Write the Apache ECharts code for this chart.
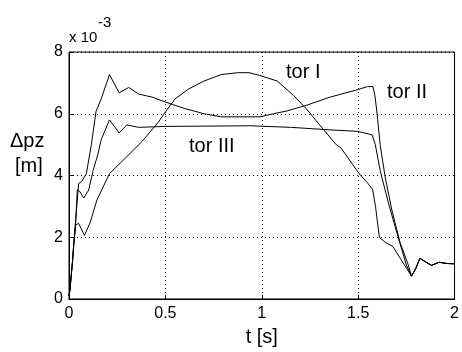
<!DOCTYPE html>
<html>
<head>
<meta charset="utf-8">
<script src="https://cdn.jsdelivr.net/npm/echarts@6/dist/echarts.min.js"></script>
<style>
html,body{margin:0;padding:0;background:#fff;}
#c{width:462px;height:352px;}
</style>
</head>
<body>
<div id="c"></div>
<script>
// values in units of 1e-3 m
var xTicks = [0, 0.5, 1, 1.5, 2];
var yTicks = [0, 2, 4, 6, 8];

var torI_t = [0, 0.005, 0.012, 0.018, 0.025, 0.035, 0.05, 0.08, 0.11, 0.145, 0.21, 0.295, 0.38, 0.465, 0.5, 0.55, 0.62, 0.70, 0.79, 0.875, 0.934, 0.99, 1.08, 1.165, 1.23, 1.30, 1.386, 1.41, 1.47, 1.505, 1.55, 1.575, 1.59, 1.61, 1.64, 1.68, 1.73];
var torI_y = [0.1, 0.3, 0.8, 1.2, 1.8, 2.4, 2.45, 2.06, 2.48, 3.21, 4.06, 4.58, 5.11, 5.74, 6.06, 6.48, 6.8, 7.06, 7.27, 7.33, 7.33, 7.24, 7.06, 6.59, 6.17, 5.64, 5.0, 4.9, 4.37, 4.06, 3.75, 3.55, 3.0, 2.0, 1.84, 1.7, 1.2];

var torII_t = [0, 0.005, 0.012, 0.018, 0.025, 0.035, 0.05, 0.065, 0.09, 0.116, 0.14, 0.167, 0.21, 0.26, 0.31, 0.36, 0.43, 0.5, 0.6, 0.7, 0.79, 0.99, 1.06, 1.13, 1.23, 1.35, 1.497, 1.548, 1.577, 1.587, 1.597, 1.614, 1.64, 1.674, 1.717, 1.76];
var torII_y = [0.1, 0.3, 0.8, 1.2, 1.8, 2.6, 3.74, 3.8, 4.06, 5.0, 6.07, 6.48, 7.27, 6.68, 6.85, 6.64, 6.54, 6.38, 6.17, 6.0, 5.9, 5.9, 6.0, 6.09, 6.27, 6.53, 6.78, 6.88, 6.88, 6.59, 6.06, 5.0, 3.95, 2.9, 1.84, 1.1];

var torIII_t = [0, 0.005, 0.012, 0.018, 0.025, 0.035, 0.043, 0.056, 0.077, 0.102, 0.125, 0.15, 0.167, 0.21, 0.26, 0.30, 0.36, 0.5, 0.94, 0.95, 1.15, 1.16, 1.35, 1.497, 1.557, 1.572, 1.589, 1.614, 1.657, 1.70, 1.75];
var torIII_y = [0.1, 0.3, 0.8, 1.2, 1.8, 2.5, 3.53, 3.48, 3.27, 3.53, 4.16, 4.69, 5.16, 5.8, 5.38, 5.64, 5.56, 5.59, 5.61, 5.56, 5.56, 5.5, 5.48, 5.43, 5.34, 5.32, 5.0, 4.16, 3.11, 2.16, 1.1];

// shared tail where the three curves coincide
var tail_t = [1.777, 1.80, 1.82, 1.85, 1.88, 1.92, 1.96, 2.0];
var tail_y = [0.74, 1.0, 1.32, 1.2, 1.09, 1.19, 1.15, 1.14];

var seriesNames = ['tor I', 'tor II', 'tor III'];

function pairs(t, y) {
  var out = [];
  for (var i = 0; i < t.length; i++) out.push([t[i], y[i]]);
  for (var j = 0; j < tail_t.length; j++) out.push([tail_t[j], tail_y[j]]);
  return out;
}

var chart = echarts.init(document.getElementById('c'), null, {renderer: 'canvas'});
var FONT = 'Liberation Sans, Arial, sans-serif';
var lineSty = {color: '#000', width: 1};
function mkSeries(name, t, y) {
  return {
    name: name, type: 'line', data: pairs(t, y), showSymbol: false, symbol: 'none',
    lineStyle: lineSty, itemStyle: {color: '#000'}, animation: false, silent: true
  };
}

chart.setOption({
  backgroundColor: '#fff',
  animation: false,
  grid: {left: 69, right: 2, top: 52, bottom: 47, show: true, borderColor: '#000', borderWidth: 1, backgroundColor: 'transparent'},
  xAxis: {
    type: 'value', min: xTicks[0], max: xTicks[xTicks.length - 1], interval: 0.5,
    axisLine: {show: true, lineStyle: {color: '#000', width: 1}},
    axisTick: {show: true, inside: true, length: 4, lineStyle: {color: '#000'}},
    axisLabel: {color: '#000', fontSize: 16, fontFamily: FONT, margin: 7,
      formatter: function (v) { return String(v); }},
    splitLine: {show: true, lineStyle: {color: '#000', width: 1, type: [1, 3]}},
    name: 't [s]', nameLocation: 'middle', nameGap: 28,
    nameTextStyle: {color: '#000', fontSize: 20, fontFamily: FONT, padding: [0, 0, 0, 0]}
  },
  yAxis: {
    type: 'value', min: yTicks[0], max: yTicks[yTicks.length - 1], interval: 2,
    axisLine: {show: true, lineStyle: {color: '#000', width: 1}},
    axisTick: {show: true, inside: true, length: 4, lineStyle: {color: '#000'}},
    axisLabel: {color: '#000', fontSize: 16, fontFamily: FONT, margin: 6},
    splitLine: {show: true, lineStyle: {color: '#000', width: 1, type: [1, 3]}}
  },
  graphic: [
    {type: 'text', left: 69, top: 30, style: {text: 'x 10', fill: '#000', font: '15px ' + FONT}},
    {type: 'text', left: 98, top: 15, style: {text: '-3', fill: '#000', font: '15px ' + FONT}},
    {type: 'text', left: 10, top: 131, style: {text: 'Δpz', fill: '#000', font: '20px ' + FONT}},
    {type: 'text', left: 15, top: 156, style: {text: '[m]', fill: '#000', font: '20px ' + FONT}},
    {type: 'text', left: 286, top: 62, style: {text: seriesNames[0], fill: '#000', font: '20px ' + FONT}},
    {type: 'text', left: 387, top: 82, style: {text: seriesNames[1], fill: '#000', font: '20px ' + FONT}},
    {type: 'text', left: 189, top: 136, style: {text: seriesNames[2], fill: '#000', font: '20px ' + FONT}}
  ],
  series: [
    mkSeries(seriesNames[0], torI_t, torI_y),
    mkSeries(seriesNames[1], torII_t, torII_y),
    mkSeries(seriesNames[2], torIII_t, torIII_y)
  ]
});
</script>
</body>
</html>
